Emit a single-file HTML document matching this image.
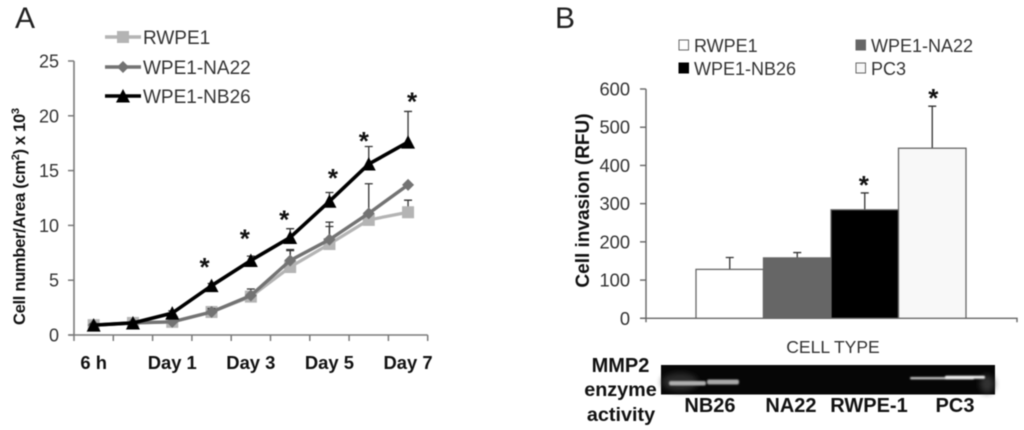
<!DOCTYPE html>
<html>
<head>
<meta charset="utf-8">
<style>
html,body{margin:0;padding:0;background:#fff;width:1024px;height:430px;overflow:hidden}
svg{display:block;filter:blur(0.6px)}
text{font-family:"Liberation Sans",sans-serif}
</style>
</head>
<body>
<svg id="fig" width="1024" height="430" viewBox="0 0 1024 430" xmlns="http://www.w3.org/2000/svg">
<defs>
<filter id="gelblur" x="-20%" y="-100%" width="140%" height="300%"><feGaussianBlur stdDeviation="0.8"/></filter>
<filter id="gelblur2" x="-50%" y="-50%" width="200%" height="200%"><feGaussianBlur stdDeviation="3"/></filter>
</defs>
<rect width="1024" height="430" fill="#fff"/>
<text x="15" y="28" font-size="30" fill="#222">A</text>
<text x="555" y="28" font-size="30" fill="#222">B</text>
<text transform="translate(25,216.5) rotate(-90)" text-anchor="middle" font-size="16.6" font-weight="bold" fill="#111" textLength="217" lengthAdjust="spacing">Cell number/Area (cm<tspan dy="-6" font-size="11">2</tspan><tspan dy="6">) x 10</tspan><tspan dy="-6" font-size="11">3</tspan></text>
<text transform="translate(589,200.5) rotate(-90)" text-anchor="middle" font-size="19" font-weight="bold" fill="#111">Cell invasion (RFU)</text>
<text x="833" y="353" text-anchor="middle" font-size="17.5" fill="#333">CELL TYPE</text>

<g>
<rect x="661" y="365" width="334" height="29.5" fill="#060606"/>
<ellipse cx="680" cy="382" rx="18" ry="9" fill="#2a2a2a" filter="url(#gelblur2)"/>
<ellipse cx="987" cy="384" rx="7" ry="9" fill="#333" filter="url(#gelblur2)"/>
<rect x="669" y="381" width="37" height="4.5" rx="2" fill="#b0b0b0" filter="url(#gelblur)"/>
<rect x="707" y="379.5" width="32" height="5" rx="2" fill="#a8a8a8" filter="url(#gelblur)"/>
<rect x="910" y="377" width="64" height="2.4" rx="1.2" fill="#c4c4c4" filter="url(#gelblur)"/>
<rect x="945" y="375.8" width="40" height="3" rx="1.4" fill="#f0f0f0" filter="url(#gelblur)"/>
</g>
<text x="620.5" y="372" text-anchor="middle" font-size="20" font-weight="bold" fill="#111">MMP2</text>
<text x="620.5" y="396" text-anchor="middle" font-size="19.8" font-weight="bold" fill="#111">enzyme</text>
<text x="621" y="421" text-anchor="middle" font-size="19.8" font-weight="bold" fill="#111">activity</text>
<text x="710" y="412" text-anchor="middle" font-size="20" font-weight="bold" fill="#111">NB26</text>
<text x="791" y="412" text-anchor="middle" font-size="20" font-weight="bold" fill="#111">NA22</text>
<text x="869" y="412" text-anchor="middle" font-size="20" font-weight="bold" fill="#111">RWPE-1</text>
<text x="955" y="412" text-anchor="middle" font-size="20" font-weight="bold" fill="#111">PC3</text>
<g id="chartA"></g>
<g id="chartB"></g>
</svg>
<script>
// Panel A data
const daySlots = [0, 1, 2, 3, 4, 5, 6, 7, 8];
const dayLabels = ['6 h', '', 'Day 1', '', 'Day 3', '', 'Day 5', '', 'Day 7'];
const growthTicks = [0, 5, 10, 15, 20, 25];
const rwpe1Values = [0.9, 1.1, 1.2, 2.1, 3.5, 6.2, 8.3, 10.5, 11.2];
const na22Values = [0.9, 1.1, 1.2, 2.1, 3.6, 6.8, 8.7, 11.1, 13.7];
const nb26Values = [0.9, 1.1, 2.0, 4.5, 6.8, 8.9, 12.2, 15.6, 17.6];
const rwpe1Errors = [0.1, 0.1, 0.2, 0.3, 0.4, 1.5, 1.6, 0, 1.1];
const na22Errors = [0.1, 0.1, 0.1, 0.3, 0.6, 1.0, 1.6, 2.7, 0];
const nb26Errors = [0.1, 0.1, 0.2, 0.2, 0.4, 0.8, 0.8, 1.6, 2.8];
const growthStarSlots = [3, 4, 5, 6, 7, 8];
const growthStarLevels = [6.4, 9, 10.7, 14.5, 17.9, 21.5];

// Panel B data
const cellTypes = ['RWPE1', 'WPE1-NA22', 'WPE1-NB26', 'PC3'];
const invasionValues = [128, 158, 284, 445];
const invasionUpper = [159, 172, 328, 555];
const invasionTicks = [0, 100, 200, 300, 400, 500, 600];
const invasionStars = [2, 3];

const NS = 'http://www.w3.org/2000/svg';
function mk(parent, tag, attrs, txt) {
  const e = document.createElementNS(NS, tag);
  for (const k in attrs) e.setAttribute(k, attrs[k]);
  if (txt !== undefined) e.textContent = txt;
  parent.appendChild(e);
  return e;
}

/* ---------- Panel A ---------- */
const A = document.getElementById('chartA');
const ax0 = 74, axW = 39.3, ay0 = 335, ayU = 10.96;
const xA = i => ax0 + axW * (i + 0.5);
const yA = v => ay0 - ayU * v;
const axisA = '#7a7a7a';

const axisYA = mk(A, 'line', {x1: ax0, x2: ax0, y1: yA(25), y2: ay0, stroke: axisA, 'stroke-width': 1.6});


const axisXA = mk(A, 'line', {x1: ax0 - 5, x2: ax0 + axW * daySlots.length, y1: ay0, y2: ay0, stroke: axisA, 'stroke-width': 1.6});



growthTicks.forEach(t => {
  const tick = mk(A, 'line', {x1: ax0 - 6, x2: ax0, y1: yA(t), y2: yA(t), stroke: axisA, 'stroke-width': 1.5});
  
  
  const lab = mk(A, 'text', {x: 59, y: yA(t) + 6.5, 'text-anchor': 'end', 'font-size': 18, fill: '#333'}, t);
  
  
});
for (let i = 0; i <= daySlots.length; i++) {
  const x = ax0 + axW * i;
  const tick = mk(A, 'line', {x1: x, x2: x, y1: ay0, y2: ay0 + 6, stroke: axisA, 'stroke-width': 1.5});
  
  
}
dayLabels.forEach((l, i) => {
  if (!l) return;
  const lab = mk(A, 'text', {x: xA(i), y: 369, 'text-anchor': 'middle', 'font-size': 18.4, 'font-weight': 'bold', fill: '#111'}, l);
  
  
});

function marker(g, kind, x, y, color) {
  if (kind === 'square') return mk(g, 'rect', {x: x - 6, y: y - 6, width: 12, height: 12, fill: color});
  if (kind === 'diamond') return mk(g, 'polygon', {points: [[x, y - 6], [x + 6, y], [x, y + 6], [x - 6, y]].join(' '), fill: color});
  return mk(g, 'polygon', {points: [[x, y - 7], [x + 7, y + 6.5], [x - 7, y + 6.5]].join(' '), fill: color});
}
function series(name, vals, errs, color, kind, lw) {
  const g = mk(A, 'g', {});
  
  
  vals.forEach((v, i) => {
    if (!errs[i]) return;
    const top = yA(v + errs[i]);
    const err = mk(g, 'path', {d: `M${xA(i)} ${yA(v)}V${top}M${xA(i) - 4} ${top}H${xA(i) + 4}`, stroke: '#333', 'stroke-width': 1.3, fill: 'none'});
    
    
  });
  const line = mk(g, 'polyline', {points: vals.map((v, i) => xA(i) + ',' + yA(v)).join(' '), fill: 'none', stroke: color, 'stroke-width': lw, 'stroke-linejoin': 'round'});
  
  
  vals.forEach((v, i) => {
    const m = marker(g, kind, xA(i), yA(v), color);
    
    
  });
}
series('rwpe1', rwpe1Values, rwpe1Errors, '#b4b4b4', 'square', 3.2);
series('na22', na22Values, na22Errors, '#737373', 'diamond', 3.4);
series('nb26', nb26Values, nb26Errors, '#000', 'triangle', 3.6);

const starShift = {3: -7, 4: -6, 5: -6, 6: 3.5, 7: -5, 8: 4};
growthStarSlots.forEach((slot, i) => {
  const star = mk(A, 'text', {x: xA(slot) + starShift[slot], y: yA(growthStarLevels[i]) + 11, 'text-anchor': 'middle', 'font-size': 26, 'font-weight': 'bold', fill: '#111'}, '*');
  
  
});

const legendA = [['RWPE1', '#b4b4b4', 'square', 37], ['WPE1-NA22', '#737373', 'diamond', 67], ['WPE1-NB26', '#000', 'triangle', 96]];
legendA.forEach(r => {
  const g = mk(A, 'g', {});
  
  
  mk(g, 'line', {x1: 105, x2: 141, y1: r[3], y2: r[3], stroke: r[1], 'stroke-width': 3.4});
  marker(g, r[2], 123, r[3], r[1]);
  mk(g, 'text', {x: 143, y: r[3] + 7, 'font-size': 19, fill: '#333'}, r[0]);
});

/* ---------- Panel B ---------- */
const B = document.getElementById('chartB');
const bx0 = 646, by0 = 318.3, byU = 229.3 / 600, barStart = 696, barW = 67.5;
const yB = v => by0 - byU * v;
const xB = i => barStart + barW * i;
const axisB = '#666';
const fills = ['#fff', '#666', '#000', '#f8f8f8'];

const axisYB = mk(B, 'line', {x1: bx0, x2: bx0, y1: yB(600), y2: by0 + 4, stroke: axisB, 'stroke-width': 1.4});


const axisXB = mk(B, 'path', {d: `M${bx0 - 6} ${by0}H1017V${by0 + 4}`, fill: 'none', stroke: axisB, 'stroke-width': 1.4});



invasionTicks.forEach(t => {
  const tick = mk(B, 'line', {x1: bx0 - 6, x2: bx0, y1: yB(t), y2: yB(t), stroke: axisB, 'stroke-width': 1.4});
  
  
  const lab = mk(B, 'text', {x: 630, y: yB(t) + 6.5, 'text-anchor': 'end', 'font-size': 18.3, fill: '#333'}, t);
  
  
});
cellTypes.forEach((c, i) => {
  const cx = xB(i) + barW / 2;
  const err = mk(B, 'path', {d: `M${cx} ${yB(invasionValues[i])}V${yB(invasionUpper[i])}M${cx - 4} ${yB(invasionUpper[i])}H${cx + 4}`, stroke: '#333', 'stroke-width': 1.3, fill: 'none'});
  
  
  const bar = mk(B, 'rect', {x: xB(i), y: yB(invasionValues[i]), width: barW, height: by0 - yB(invasionValues[i]), fill: fills[i], stroke: '#666', 'stroke-width': 1.3});
  
  
});
invasionStars.forEach(i => {
  const star = mk(B, 'text', {x: xB(i) + barW / 2 + (i === 3 ? 1 : -1), y: yB(invasionUpper[i]) + 1, 'text-anchor': 'middle', 'font-size': 26, 'font-weight': 'bold', fill: '#111'}, '*');
  
  
});

const legendB = [[0, 679, 694, 45], [1, 856, 871, 45], [2, 679, 694, 68], [3, 856, 871, 68]];
legendB.forEach(r => {
  const g = mk(B, 'g', {});
  
  
  mk(g, 'rect', {x: r[1], y: r[3] - 5, width: 9.5, height: 10, fill: fills[r[0]], stroke: r[0] === 2 ? '#000' : '#666', 'stroke-width': 1});
  mk(g, 'text', {x: r[2], y: r[3] + 7, 'font-size': 18, fill: '#333'}, cellTypes[r[0]]);
});
</script>
</body>
</html>
